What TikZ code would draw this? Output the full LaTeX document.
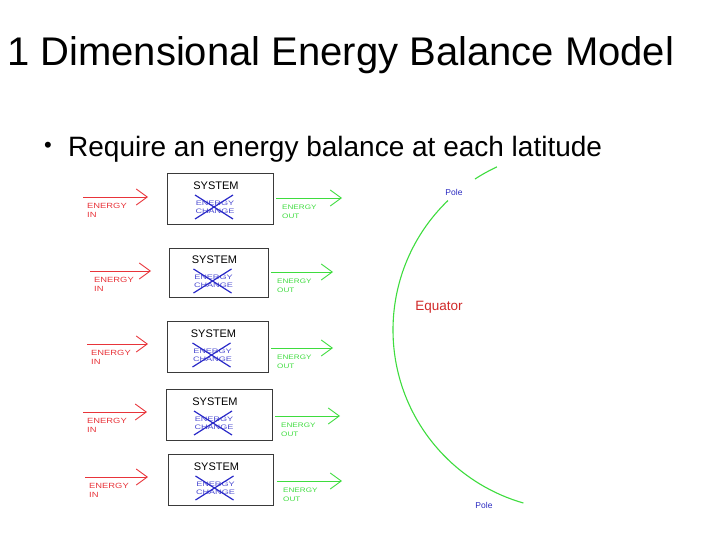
\documentclass[tikz,border=0pt]{standalone}
\usepackage{fontspec}
\setmainfont{Liberation Sans}
\newfontfamily\wideA[FakeStretch=1.25]{Liberation Sans}
\newfontfamily\wideB[FakeStretch=1.4]{Liberation Sans}
\usetikzlibrary{arrows.meta,calc,fit}
\definecolor{inred}{HTML}{E8343A}
\definecolor{outgreen}{HTML}{3EDC3E}
\definecolor{chblue}{HTML}{2A2AC8}
\definecolor{boxgray}{HTML}{3A3A3A}
\definecolor{eqred}{HTML}{D02828}
\definecolor{poleblue}{HTML}{2828C0}
\begin{document}
\begin{tikzpicture}[x=1pt,y=-1pt,
  sysbox/.style={draw=boxgray, line width=0.9pt, inner sep=0pt},
  systxt/.style={font=\fontsize{11}{12}\selectfont, inner sep=0pt},
  chtxt/.style={font=\wideB\fontsize{6.5}{8.5}\selectfont, text=chblue!85, align=center, inner sep=0pt},
  cross/.style={draw=chblue, line width=1.2pt},
  inarrow/.style={draw=inred, line width=0.9pt, -{Straight Barb[length=11pt,width=16pt]}},
  outarrow/.style={draw=outgreen, line width=0.9pt, -{Straight Barb[length=11pt,width=16pt]}},
  inlbl/.style={font=\wideA\fontsize{7.5}{9}\selectfont, text=inred, align=left, anchor=north west, inner sep=0pt},
  outlbl/.style={font=\wideA\fontsize{6.5}{8.5}\selectfont, text=outgreen, align=left, anchor=north west, inner sep=0pt},
  arcline/.style={draw=outgreen, line width=1.1pt},
  polelbl/.style={font=\fontsize{8.5}{10}\selectfont, text=poleblue, inner sep=0pt},
]
\useasboundingbox (0,0) rectangle (720,540);

\node[anchor=base west, inner sep=0pt, font=\fontsize{40}{48}\selectfont] (title) at (7,66) {1 Dimensional Energy Balance Model};
\node[font=\fontsize{22}{24}\selectfont, inner sep=0pt] (dot) at (48,147) {\textbullet};
\node[anchor=base west, inner sep=0pt, font=\fontsize{28}{34}\selectfont] (req) at (68,157) {Require an energy balance at each latitude};

\foreach \i/\bl/\bt/\br/\bb/\ry/\rxa/\rxb/\gy/\gxa/\gxb in {
  1/167/173/273/224/197/83/148/198/276/342,
  2/169/248/268/297/271/90/151/272/271/333,
  3/167/321/268/372/344/87/148/348/271/333,
  4/166/389/272/440/412/83/147/416/275/340,
  5/168/454/273/505/477/85/148/481/277/342}{
  \coordinate (nw\i) at (\bl,\bt);
  \coordinate (se\i) at (\br,\bb);
  \node[sysbox, fit=(nw\i)(se\i)] (box\i) {};
  \node[systxt] (sys\i) at ($(box\i.center)+(-4,-12.5)$) {SYSTEM};
  \node[chtxt] (ch\i) at ($(box\i.center)+(-5,9)$) {ENERGY\\CHANGE};
  \draw[cross] ($(box\i.center)+(-25,-3.5)$) -- ($(box\i.center)+(13,20.5)$);
  \draw[cross] ($(box\i.center)+(13,-3.5)$) -- ($(box\i.center)+(-25,20.5)$);
  \coordinate (ins\i) at (\rxa,\ry);
  \coordinate (ine\i) at (\rxb,\ry);
  \draw[inarrow] (ins\i) -- (ine\i);
  \node[inlbl] (inl\i) at ($(ins\i)+(4,6)$) {ENERGY\\IN};
  \coordinate (outs\i) at (\gxa,\gy);
  \coordinate (oute\i) at (\gxb,\gy);
  \draw[outarrow] (outs\i) -- (oute\i);
  \node[outlbl] (outl\i) at ($(outs\i)+(6,7)$) {ENERGY\\OUT};
}

% the meridian arc (circle, centre (573,330), radius 180)
\coordinate (earth) at (573,330);
\draw[arcline] (earth) ++(245:180) arc[start angle=245, end angle=237, radius=180];
\draw[arcline] (earth) ++(226:180) arc[start angle=226, end angle=106, radius=180];

\node[polelbl] (poletop) at (454,192) {Pole};
\node[polelbl] (polebot) at (484,505) {Pole};
\node[font=\fontsize{13.5}{15}\selectfont, text=eqred, inner sep=0pt] (equator) at (439,307) {Equator};
\end{tikzpicture}
\end{document}
